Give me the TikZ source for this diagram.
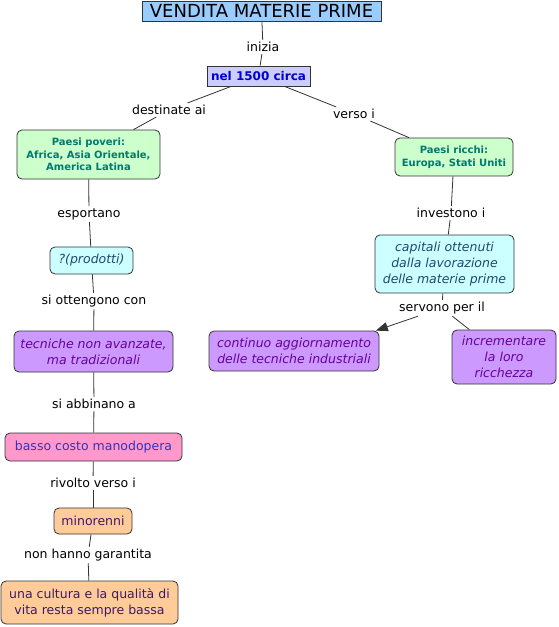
\documentclass[tikz,border=0pt]{standalone}
\usepackage{fontspec}
\setmainfont{DejaVu Sans}
\usetikzlibrary{arrows.meta}
\definecolor{ctitle}{HTML}{99CCFF}
\definecolor{cnel}{HTML}{CCCCFF}
\definecolor{cneltext}{HTML}{0000CC}
\definecolor{cgreen}{HTML}{CCFFCC}
\definecolor{cgreentext}{HTML}{007A6E}
\definecolor{ccyan}{HTML}{CCFFFF}
\definecolor{ccyantext}{HTML}{204870}
\definecolor{cpurple}{HTML}{CC99FF}
\definecolor{cpurpletext}{HTML}{660099}
\definecolor{cpink}{HTML}{FF99CC}
\definecolor{cpinktext}{HTML}{3333BB}
\definecolor{cpeach}{HTML}{FFCC99}
\definecolor{cpeachtext}{HTML}{3A1A66}
\begin{document}
\begin{tikzpicture}[x=1pt,y=-1pt,
  box/.style={draw=black!80, line width=0.8pt, rounded corners=5pt, inner sep=0pt, align=center},
  sqbox/.style={draw=black!80, line width=0.8pt, inner sep=0pt, align=center},
  boxfont/.style={font=\fontsize{12.5}{16}\selectfont},
  itfont/.style={font=\fontsize{12.5}{16}\selectfont\itshape},
  lab/.style={inner sep=2pt, font=\fontsize{12.5}{15}\selectfont, text=black},
  conn/.style={draw=black!80, line width=0.8pt}]
\useasboundingbox (0,0) rectangle (559,627);

% concept nodes
\node[sqbox, fill=ctitle, minimum width=239pt, minimum height=20pt, font=\fontsize{18}{20}\selectfont] (title) at (261.5,11) {VENDITA MATERIE PRIME};
\node[sqbox, fill=cnel, text=cneltext, minimum width=103pt, minimum height=20pt, font=\fontsize{12}{14}\selectfont\bfseries] (nel) at (258.5,76) {nel 1500 circa};
\node[box, fill=cgreen, text=cgreentext, minimum width=143pt, minimum height=49pt, font=\fontsize{10}{12.5}\selectfont\bfseries] (poveri) at (88.5,154.5) {Paesi poveri:\\Africa, Asia Orientale,\\America Latina};
\node[box, fill=cgreen, text=cgreentext, minimum width=118pt, minimum height=38pt, font=\fontsize{10}{12.5}\selectfont\bfseries] (ricchi) at (454,157) {Paesi ricchi:\\Europa, Stati Uniti};
\node[box, fill=ccyan, text=ccyantext, minimum width=83pt, minimum height=27pt, itfont] (prodotti) at (91.5,260.5) {?(prodotti)};
\node[box, fill=cpurple, text=cpurpletext, minimum width=159pt, minimum height=41pt, itfont] (tecniche) at (93.5,351.5) {tecniche non avanzate,\\ma tradizionali};
\node[box, fill=cpink, text=cpinktext, minimum width=177pt, minimum height=28pt, boxfont] (basso) at (93.5,447) {basso costo manodopera};
\node[box, fill=cpeach, text=cpeachtext, minimum width=78pt, minimum height=26pt, boxfont] (minorenni) at (93,521) {minorenni};
\node[box, fill=cpeach, text=cpeachtext, minimum width=177pt, minimum height=43pt, boxfont] (cultura) at (89.5,602.5) {una cultura e la qualità di\\vita resta sempre bassa};
\node[box, fill=ccyan, text=ccyantext, minimum width=139pt, minimum height=58pt, itfont] (capitali) at (444.5,264) {capitali ottenuti\\dalla lavorazione\\delle materie prime};
\node[box, fill=cpurple, text=cpurpletext, minimum width=170pt, minimum height=40pt, itfont] (continuo) at (294,351) {continuo aggiornamento\\delle tecniche industriali};
\node[box, fill=cpurple, text=cpurpletext, minimum width=104pt, minimum height=54pt, itfont] (incrementare) at (504,357) {incrementare\\la loro\\ricchezza};

% linking phrases
\node[lab] (inizia) at (263,47) {inizia};
\node[lab] (destinate) at (169,110) {destinate ai};
\node[lab] (verso) at (354,114) {verso i};
\node[lab] (esportano) at (89,214) {esportano};
\node[lab] (ottengono) at (94,301) {si ottengono con};
\node[lab] (abbinano) at (94,404) {si abbinano a};
\node[lab] (rivolto) at (93,483) {rivolto verso i};
\node[lab] (garantita) at (88,555) {non hanno garantita};
\node[lab] (investono) at (451,213) {investono i};
\node[lab] (servono) at (442,308) {servono per il};

% connectors
\draw[conn] (title) -- (inizia);
\draw[conn] (inizia) -- (nel);
\draw[conn] (nel) -- (destinate);
\draw[conn] (destinate) -- (poveri);
\draw[conn] (nel) -- (verso);
\draw[conn] (verso) -- (ricchi);
\draw[conn] (poveri) -- (esportano);
\draw[conn] (esportano) -- (prodotti);
\draw[conn] (prodotti) -- (ottengono);
\draw[conn] (ottengono) -- (tecniche);
\draw[conn] (tecniche) -- (abbinano);
\draw[conn] (abbinano) -- (basso);
\draw[conn] (basso) -- (rivolto);
\draw[conn] (rivolto) -- (minorenni);
\draw[conn] (minorenni) -- (garantita);
\draw[conn] (garantita) -- (cultura);
\draw[conn] (ricchi) -- (investono);
\draw[conn] (investono) -- (capitali);
\draw[conn] (capitali) -- (servono);
\draw[conn, -{Triangle[length=12pt,width=9pt]}] (servono) -- (continuo.14);
\draw[conn] (servono) -- (incrementare);
\end{tikzpicture}
\end{document}
